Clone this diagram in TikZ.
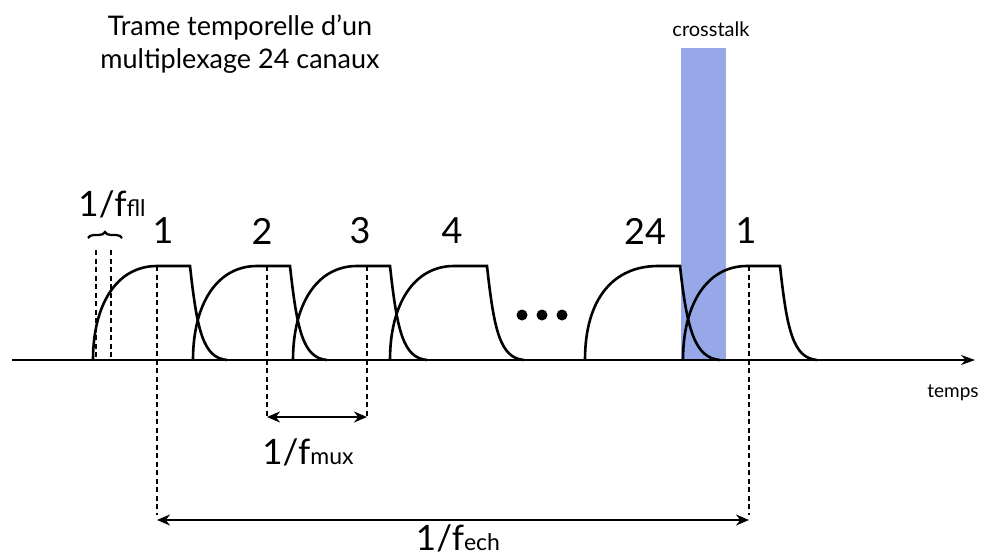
\documentclass[tikz,border=0pt]{standalone}
\usepackage{fontspec}
\setmainfont{Lato}
\usetikzlibrary{positioning,decorations.pathreplacing,arrows.meta}
\definecolor{crossblue}{HTML}{97A8E8}
\tikzset{
  pulse/.style={line width=2.6pt},
  guide/.style={line width=2.6pt, dash pattern=on 5pt off 3.5pt},
  chan/.style={font=\fontsize{36}{36}\selectfont},
  span/.style={line width=2.2pt, {Stealth[length=13pt,width=11pt]}-{Stealth[length=13pt,width=11pt]}},
}
\newcommand{\invf}[1]{{\fontsize{35}{35}\selectfont 1/f}{\fontsize{23}{23}\selectfont #1}}

\begin{document}
\begin{tikzpicture}[x=1pt,y=-1pt]
    \useasboundingbox (0,0) rectangle (989,560);
    % crosstalk band
    \fill[crossblue] (681,48) rectangle (726,360);
    \node[font=\fontsize{20}{20}\selectfont] (xtalk) at (711,29) {crosstalk};
    \node[align=center, font=\fontsize{27}{33}\selectfont] (title) at (240,44) {Trame temporelle d'un\\multiplexage 24 canaux};
    % time axis
    \coordinate (ax0) at (12,360);
    \coordinate (ax1) at (975,360);
    \draw[line width=2.2pt, -{Stealth[length=14pt,width=10pt]}] (ax0) -- (ax1);
    \node[font=\fontsize{19}{19}\selectfont] (temps) at (953,393) {temps};
    % pulses
    \foreach \x in {93,193,293,390,683}
        \draw[pulse] (\x,360) .. controls (\x,304) and (\x+24,266) .. (\x+64,266) -- (\x+97,266)
            .. controls (\x+104,330) and (\x+110,358) .. (\x+134,360);
    \draw[pulse] (585,360) .. controls (585,298) and (614,266) .. (658,266) -- (680,266)
        .. controls (687,330) and (695,358) .. (720,360);
    \foreach \x in {522,542,562} \fill (\x,315) circle (5.5pt);
    % channel numbers
    \node[chan] (c1) at (163,231) {1};
    \node[chan] (c2) at (262,231) {2};
    \node[chan] (c3) at (360,231) {3};
    \node[chan] (c4) at (452,231) {4};
    \node[chan] (c24) at (645,231) {24};
    \node[chan] (c1b) at (746,231) {1};
    % guides
    \coordinate (f1t) at (96,250);  \coordinate (f1b) at (96,360);
    \coordinate (f2t) at (111,250); \coordinate (f2b) at (111,360);
    \coordinate (p1t) at (157,266); \coordinate (p1b) at (157,515);
    \coordinate (p2t) at (267,266); \coordinate (p2b) at (267,417);
    \coordinate (p3t) at (367,266); \coordinate (p3b) at (367,417);
    \coordinate (p4t) at (749,266); \coordinate (p4b) at (749,515);
    \draw[guide] (f1t) -- (f1b);
    \draw[guide] (f2t) -- (f2b);
    \draw[guide] (p1t) -- (p1b);
    \draw[guide] (p2t) -- (p2b);
    \draw[guide] (p3t) -- (p3b);
    \draw[guide] (p4t) -- (p4b);
    % periods
    \coordinate (br0) at (88,238);
    \coordinate (br1) at (122,238);
    \draw[line width=2.2pt, decorate, decoration={brace,amplitude=6pt}] (br0) -- (br1);
    \node (ffll) at (112,204) {\invf{fll}};
    \draw[span] (p2b) -- (p3b);
    \node (fmux) at (308,452) {\invf{mux}};
    \draw[span] ([yshift=-5pt]p1b) -- ([yshift=-5pt]p4b);
    \node (fech) at (458,538) {\invf{ech}};
\end{tikzpicture}
\end{document}
